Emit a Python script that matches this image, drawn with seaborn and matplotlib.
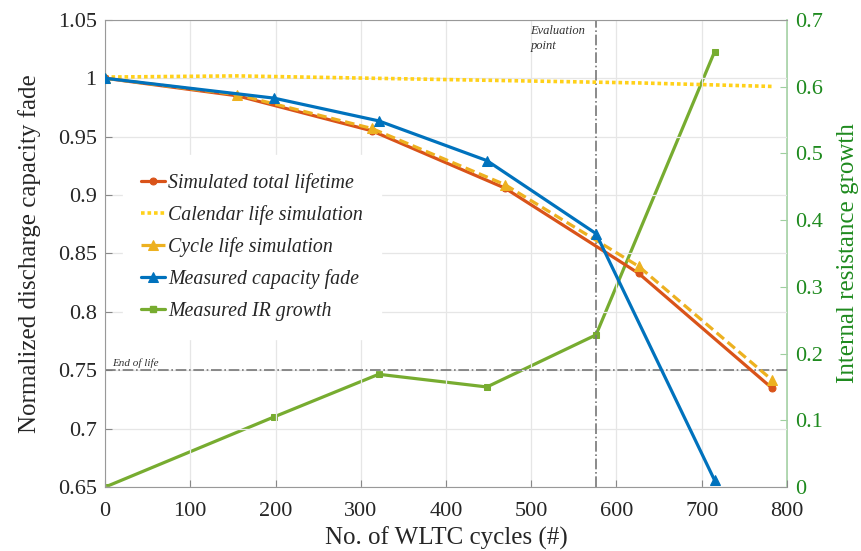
import pandas as pd
import seaborn as sns
import matplotlib.pyplot as plt

# simulated curves (cycles)
sim_cycles = [0, 155, 313, 469, 626, 782]
sim_total = [1.000, 0.985, 0.955, 0.906, 0.833, 0.735]
calendar_life = [1.001, 1.002, 1.000, 0.998, 0.996, 0.993]
cycle_life = [1.000, 0.986, 0.957, 0.909, 0.839, 0.742]

# measured points
meas_cycles = [0, 198, 321, 448, 576, 715]
meas_capacity = [1.000, 0.983, 0.9635, 0.9295, 0.867, 0.656]
meas_ir = [0.000, 0.105, 0.169, 0.150, 0.228, 0.652]

eval_point = 576
end_of_life = 0.75

sns.set_style("ticks")
plt.rcParams['font.family'] = ['Liberation Serif', 'DejaVu Serif']

c_orange = "#D95319"
c_yellow = "#EDB120"
c_cal = "#FFD11A"
c_blue = "#0072BD"
c_green = "#77AC30"
c_rgreen = "#1E8A1E"

sim = pd.DataFrame({"cycles": sim_cycles, "total": sim_total,
                    "calendar": calendar_life, "cycle": cycle_life})
meas = pd.DataFrame({"cycles": meas_cycles, "cap": meas_capacity, "ir": meas_ir})

fig = plt.figure(figsize=(8.61, 5.51), dpi=100)
ax = fig.add_axes([0.122, 0.116, 0.792, 0.848])
ax2 = ax.twinx()

lw = 2.3
sns.lineplot(data=sim, x="cycles", y="total", ax=ax, color=c_orange, lw=lw,
             marker="o", markersize=5, markeredgecolor=c_orange, label="Simulated total lifetime", zorder=4)
sns.lineplot(data=sim, x="cycles", y="calendar", ax=ax, color=c_cal, lw=2.6,
             linestyle=(0, (1, 0.8)), label="Calendar life simulation", zorder=3)
sns.lineplot(data=sim, x="cycles", y="cycle", ax=ax, color=c_yellow, lw=lw,
             linestyle=(0, (3, 1.5)), marker="^", markersize=7, markeredgecolor=c_yellow,
             label="Cycle life simulation", zorder=5)
sns.lineplot(data=meas, x="cycles", y="cap", ax=ax, color=c_blue, lw=lw,
             marker="^", markersize=7, markeredgecolor=c_blue, label="Measured capacity fade", zorder=6)
sns.lineplot(data=meas, x="cycles", y="ir", ax=ax2, color=c_green, lw=lw,
             marker="s", markersize=5, markeredgecolor=c_green, legend=False, zorder=6)

# reference lines
ax.axvline(eval_point, color="#777777", lw=1.2, linestyle="-.", zorder=2)
ax.axhline(end_of_life, color="#777777", lw=1.2, linestyle="-.", zorder=2)
ax.text(8, end_of_life + 0.004, "End of life", fontsize=8, style="italic", color="#333333")
ax.text(eval_point - 77, 1.034, "Evaluation\npoint", fontsize=9, style="italic",
        color="#333333", va="center", linespacing=1.3)

ax.set_xlim(0, 800)
ax.set_ylim(0.65, 1.05)
ax2.set_ylim(0, 0.7)
ax.set_xticks(range(0, 801, 100))
ax.set_yticks([0.65, 0.7, 0.75, 0.8, 0.85, 0.9, 0.95, 1.0, 1.05])
ax.set_yticklabels(["0.65", "0.7", "0.75", "0.8", "0.85", "0.9", "0.95", "1", "1.05"])
ax2.set_yticks([0, 0.1, 0.2, 0.3, 0.4, 0.5, 0.6, 0.7])
ax2.set_yticklabels(["0", "0.1", "0.2", "0.3", "0.4", "0.5", "0.6", "0.7"])

ax.grid(True, color="#E6E6E6", lw=0.9)
ax.set_axisbelow(True)

ax.set_xlabel("No. of WLTC cycles (#)", fontsize=18, labelpad=4)
ax.set_ylabel("Normalized discharge capacity fade", fontsize=18, labelpad=12)
ax2.set_ylabel("Internal resistance growth", fontsize=18, color=c_rgreen, labelpad=10)

ax.tick_params(axis="y", direction="in", labelsize=16, color="#888888", length=5, pad=6)
ax.tick_params(axis="x", direction="in", labelsize=16, color="#888888", length=5, pad=11)
ax2.tick_params(axis="y", direction="in", labelsize=16, colors=c_rgreen, length=5, pad=6)
ax2.tick_params(axis="y", color="#9FCF9F")

for s in ["left", "bottom", "top"]:
    ax.spines[s].set_color("#999999")
for s in ["left", "bottom", "top"]:
    ax2.spines[s].set_visible(False)
ax.spines["right"].set_visible(False)
ax2.spines["right"].set_color("#9FCF9F")
ax2.spines["right"].set_linewidth(1.2)

# legend including the right-axis line
h, l = ax.get_legend_handles_labels()
h2 = plt.Line2D([], [], color=c_green, lw=lw, marker="s", markersize=5)
h.append(h2)
l.append("Measured IR growth")
leg = ax.legend(h, l, loc="upper left", bbox_to_anchor=(0.026, 0.711), frameon=True,
                handlelength=1.25, handletextpad=0.15, labelspacing=0.62,
                borderaxespad=0.0, borderpad=0.9, prop={"style": "italic", "size": 14.3})
leg.get_frame().set_edgecolor("white")
leg.get_frame().set_facecolor("white")
leg.get_frame().set_alpha(1)
ax.set_zorder(ax2.get_zorder() + 1)
ax.patch.set_visible(False)

fig.savefig("out.png", dpi=100)
